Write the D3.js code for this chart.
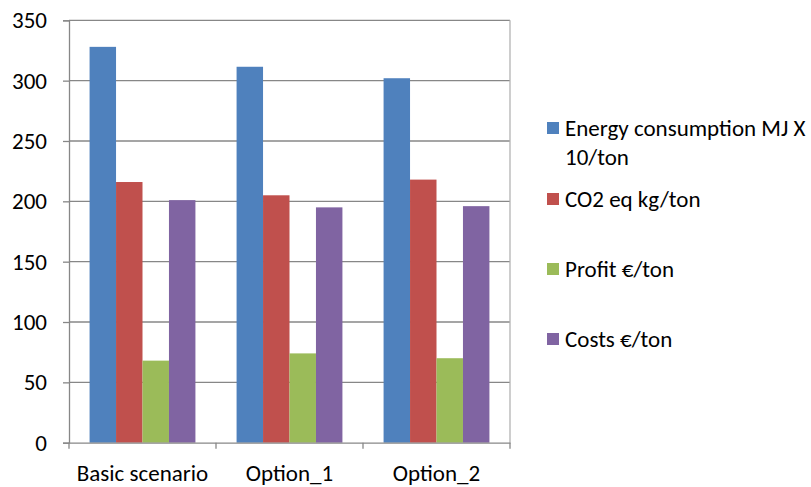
<!DOCTYPE html>
<html><head><meta charset="utf-8">
<script src="https://cdn.jsdelivr.net/npm/d3@7"></script>
<style>
html,body{margin:0;padding:0;background:#fff;}
text{font-family:Carlito,Lato,sans-serif;fill:#000;}
</style></head>
<body><svg id="chart" width="811" height="487"></svg>
<script>
const categories = ["Basic scenario", "Option_1", "Option_2"];
const seriesNames = ["Energy consumption MJ X 10/ton", "CO2 eq kg/ton", "Profit €/ton", "Costs €/ton"];
const energy = [328, 311.5, 302];
const co2 = [216, 205, 218];
const profit = [68, 74, 70];
const costs = [201, 195, 196];
const yTicks = [0, 50, 100, 150, 200, 250, 300, 350];
const colors = ["#4F81BD", "#C0504D", "#9BBB59", "#8064A2"];

(function () {
const seriesValues = [energy, co2, profit, costs];
const svg = d3.select("#chart");
const pLeft = 69, pRight = 510, pTop = 20.3, pBottom = 442.7;
const fs = 23;
const font = "Carlito, Lato, sans-serif";

const y = d3.scaleLinear().domain([0, 350]).range([pBottom, pTop]);
const x0 = d3.scaleBand().domain(categories).range([pLeft, pRight]).padding(0);
const bw = x0.bandwidth();
const gap = bw * 0.14;
const x1 = d3.scaleBand().domain(seriesNames).range([gap, bw - gap]).padding(0);

// gridlines
svg.append("g").selectAll("line").data(yTicks.filter(d => d > 0)).join("line")
  .attr("x1", pLeft).attr("x2", pRight)
  .attr("y1", d => y(d)).attr("y2", d => y(d))
  .attr("stroke", "#878787").attr("stroke-width", 1.3);
// right border
svg.append("line").attr("x1", pRight).attr("x2", pRight).attr("y1", pTop).attr("y2", pBottom)
  .attr("stroke", "#b3b3b3").attr("stroke-width", 1.3);

// bars
const g = svg.append("g");
categories.forEach((c, ci) => {
  seriesNames.forEach((s, si) => {
    g.append("rect")
      .attr("x", x0(c) + x1(s))
      .attr("width", x1.bandwidth())
      .attr("y", y(seriesValues[si][ci]))
      .attr("height", y(0) - y(seriesValues[si][ci]))
      .attr("fill", colors[si]);
  });
});

// y axis
const yAxis = d3.axisLeft(y).tickValues(yTicks).tickSize(6).tickPadding(16);
const ya = svg.append("g").attr("transform", `translate(${pLeft},0)`).call(yAxis);
ya.select(".domain").attr("stroke", "#878787").attr("stroke-width", 1.3);
ya.selectAll(".tick line").attr("stroke", "#878787").attr("stroke-width", 1.3);
ya.selectAll("text").style("font-size", fs + "px").style("font-family", font).attr("fill", "#000");

// x axis
const xAxis = d3.axisBottom(x0).tickSize(0).tickPadding(22);
const xa = svg.append("g").attr("transform", `translate(0,${pBottom})`).call(xAxis);
xa.select(".domain").attr("stroke", "#878787").attr("stroke-width", 1.3);
xa.selectAll("text").style("font-size", fs + "px").style("font-family", font).attr("fill", "#000");
// category separators
const seps = [pLeft, ...categories.map(c => x0(c) + bw)];
svg.append("g").selectAll("line").data(seps).join("line")
  .attr("x1", d => d).attr("x2", d => d).attr("y1", pBottom).attr("y2", pBottom + 6)
  .attr("stroke", "#878787").attr("stroke-width", 1.3);

// legend
const legendY = [128, 199, 269, 339];
const lg = svg.append("g");
seriesNames.forEach((s, i) => {
  lg.append("rect").attr("x", 547).attr("y", legendY[i] - 6).attr("width", 12).attr("height", 12)
    .attr("fill", colors[i]);
  const t = lg.append("text").attr("x", 565).attr("y", legendY[i]).attr("dy", "0.35em")
    .style("font-size", fs + "px").style("font-family", font);
  const words = s.split(" ");
  let line = [], tspan = t.append("tspan").attr("x", 565);
  words.forEach(w => {
    line.push(w);
    tspan.text(line.join(" "));
    if (tspan.node().getComputedTextLength() > 246 && line.length > 1) {
      line.pop();
      tspan.text(line.join(" "));
      line = [w];
      tspan = t.append("tspan").attr("x", 565).attr("dy", "29px").text(w);
    }
  });
});
})();
</script></body></html>
